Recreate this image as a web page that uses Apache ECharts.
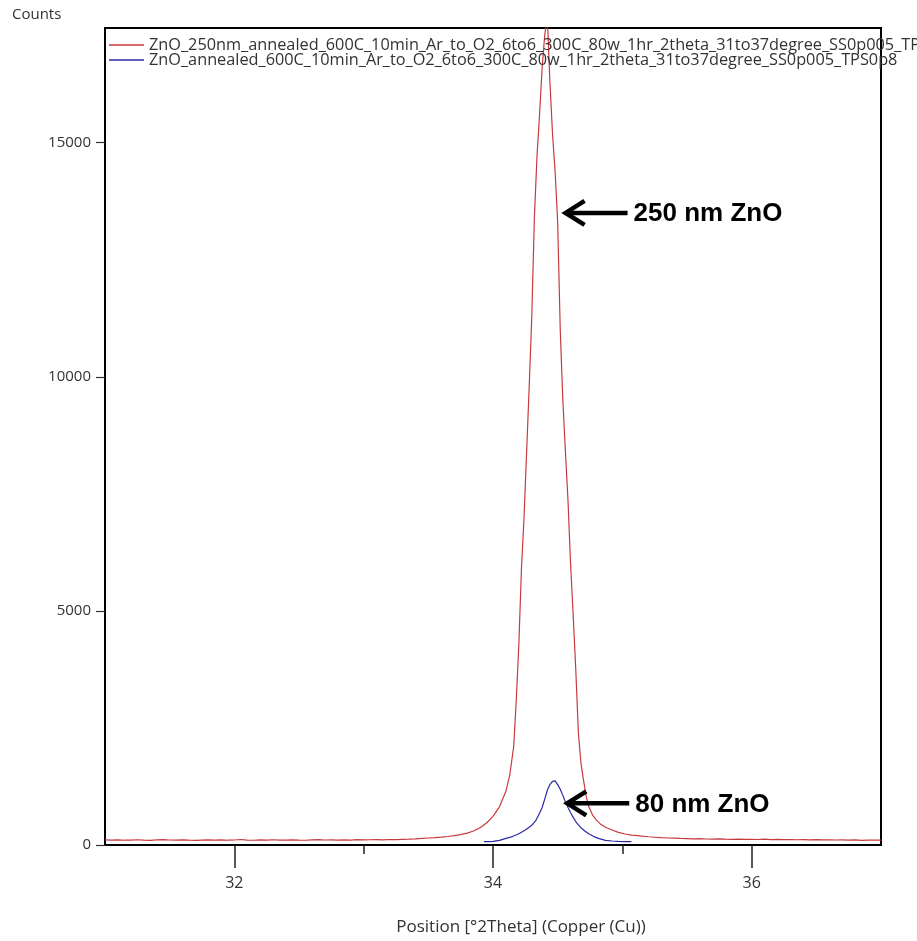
<!DOCTYPE html>
<html>
<head>
<meta charset="utf-8">
<title>ZnO XRD</title>
<script src="https://cdn.jsdelivr.net/npm/echarts@6/dist/echarts.min.js"></script>
<style>
  html, body { margin: 0; padding: 0; background: #fff; }
  #chart { width: 917px; height: 941px; }
</style>
</head>
<body>
<div id="chart"></div>
<script>
// 2theta positions (degrees) and counts
const redPos = [
  31.00, 31.05, 31.10, 31.15, 31.20, 31.25, 31.30, 31.35, 31.40, 31.45,
  31.50, 31.55, 31.60, 31.65, 31.70, 31.75, 31.80, 31.85, 31.90, 31.95,
  32.00, 32.05, 32.10, 32.15, 32.20, 32.25, 32.30, 32.35, 32.40, 32.45,
  32.50, 32.55, 32.60, 32.65, 32.70, 32.75, 32.80, 32.85, 32.90, 32.95,
  33.00, 33.05, 33.10, 33.15, 33.20, 33.25, 33.30, 33.35, 33.40, 33.45,
  33.50, 33.55, 33.60, 33.65, 33.70, 33.75, 33.80, 33.85, 33.90, 33.95,
  34.00, 34.05, 34.10, 34.13, 34.16, 34.18, 34.20, 34.22, 34.24, 34.26,
  34.28, 34.30, 34.32, 34.34, 34.36, 34.38, 34.40, 34.42, 34.44, 34.46,
  34.48, 34.50, 34.52, 34.54, 34.56, 34.58, 34.60, 34.62, 34.64, 34.66,
  34.68, 34.70, 34.72, 34.74, 34.77, 34.80, 34.83, 34.87, 34.92, 34.97,
  35.02, 35.07, 35.10, 35.15, 35.20, 35.25, 35.30, 35.35, 35.40, 35.45,
  35.50, 35.55, 35.60, 35.65, 35.70, 35.75, 35.80, 35.85, 35.90, 35.95,
  36.00, 36.05, 36.10, 36.15, 36.20, 36.25, 36.30, 36.35, 36.40, 36.45,
  36.50, 36.55, 36.60, 36.65, 36.70, 36.75, 36.80, 36.85, 36.90, 36.95,
  37.00
];
const redCounts = [
  108, 104, 110, 102, 106, 112, 105, 100, 108, 115,
  107, 103, 110, 104, 99, 106, 111, 104, 108, 102,
  107, 118, 106, 101, 109, 104, 112, 106, 103, 110,
  105, 101, 108, 114, 107, 111, 104, 110, 106, 113,
  108, 112, 116, 110, 118, 114, 122, 126, 132, 140,
  150, 158, 168, 182, 200, 222, 255, 300, 370, 470,
  610, 815, 1150, 1500, 2100, 3100, 4300, 5900, 7000, 8400,
  9800, 11300, 13400, 14700, 15600, 16600, 17300, 17700, 16300, 15200,
  14400, 13300, 11000, 9500, 8400, 7350, 6000, 4900, 3750, 2400,
  1750, 1380, 1050, 820, 640, 530, 450, 380, 320, 270,
  235, 212, 205, 190, 176, 166, 156, 150, 146, 140,
  137, 132, 135, 128, 126, 130, 124, 121, 126, 119,
  122, 118, 124, 116, 120, 114, 118, 112, 116, 111,
  114, 109, 112, 107, 111, 104, 109, 100, 106, 102,
  105
];
const bluePos = [
  33.93, 33.96, 34.00, 34.05, 34.10, 34.15, 34.20, 34.25, 34.30, 34.33,
  34.36, 34.38, 34.40, 34.42, 34.44, 34.46, 34.47, 34.48, 34.50, 34.52,
  34.54, 34.56, 34.58, 34.60, 34.62, 34.65, 34.68, 34.71, 34.74, 34.78,
  34.82, 34.87, 34.92, 34.97, 35.02, 35.07
];
const blueCounts = [
  70, 72, 78, 100, 140, 180, 240, 320, 420, 520,
  680, 800, 980, 1170, 1290, 1360, 1390, 1370, 1290, 1190,
  1060, 920, 800, 690, 590, 460, 370, 300, 240, 180,
  135, 100, 85, 78, 72, 70
];

const xMajorTicks = [32, 34, 36];
const xMinorTicks = [33, 35];
const yTicks = [0, 5000, 10000, 15000];

const redName = 'ZnO_250nm_annealed_600C_10min_Ar_to_O2_6to6_300C_80w_1hr_2theta_31to37degree_SS0p005_TPS0p8';
const blueName = 'ZnO_annealed_600C_10min_Ar_to_O2_6to6_300C_80w_1hr_2theta_31to37degree_SS0p005_TPS0p8';

const uiFont = '"Open Sans", "Noto Sans", sans-serif';

const chart = echarts.init(document.getElementById('chart'));

const option = {
  backgroundColor: '#fff',
  animation: false,
  grid: {
    left: 105, right: 36, top: 28, bottom: 90,
    show: true,
    borderColor: '#000',
    borderWidth: 2,
    backgroundColor: 'transparent'
  },
  legend: {
    data: [
      { name: redName, icon: 'rect' },
      { name: blueName, icon: 'rect' }
    ],
    left: 104,
    top: 32,
    orient: 'vertical',
    itemGap: -1,
    itemWidth: 35,
    itemHeight: 1.5,
    textStyle: { fontFamily: uiFont, fontSize: 16.3, color: '#333' }
  },
  xAxis: [
    {
      type: 'value',
      min: 31,
      max: 37,
      name: 'Position [°2Theta] (Copper (Cu))',
      nameLocation: 'middle',
      nameGap: 74,
      nameTextStyle: { fontFamily: uiFont, fontSize: 17, color: '#333', padding: [0, 0, 0, 56] },
      axisLine: { show: true, lineStyle: { color: '#000', width: 2 } },
      axisTick: { show: true, customValues: xMajorTicks, length: 23, lineStyle: { color: '#222', width: 1.5 } },
      axisLabel: { customValues: xMajorTicks, margin: 30, fontFamily: uiFont, fontSize: 16, color: '#333' },
      splitLine: { show: false }
    },
    {
      type: 'value',
      min: 31,
      max: 37,
      position: 'bottom',
      axisLine: { show: false },
      axisTick: { show: true, customValues: xMinorTicks, length: 9, lineStyle: { color: '#222', width: 1.5 } },
      axisLabel: { show: false },
      splitLine: { show: false }
    }
  ],
  yAxis: {
    type: 'value',
    min: 0,
    max: 17450,
    axisLine: { show: true, lineStyle: { color: '#000', width: 2 } },
    axisTick: { show: true, customValues: yTicks, length: 9, lineStyle: { color: '#333', width: 1.2 } },
    axisLabel: {
      customValues: yTicks,
      margin: 14,
      fontFamily: uiFont,
      fontSize: 15,
      color: '#333',
      formatter: v => String(v)
    },
    splitLine: { show: false }
  },
  graphic: [
    {
      type: 'text',
      left: 12,
      top: 7,
      style: { text: 'Counts', fontFamily: uiFont, fontSize: 15, fill: '#333' }
    }
  ],
  series: [
    {
      name: redName,
      type: 'line',
      xAxisIndex: 0,
      symbol: 'none',
      data: redPos.map((p, i) => [p, redCounts[i]]),
      lineStyle: { color: '#c83a3e', width: 1.2 },
      itemStyle: { color: '#c83a3e' },
      z: 2
    },
    {
      name: blueName,
      type: 'line',
      xAxisIndex: 0,
      symbol: 'none',
      data: bluePos.map((p, i) => [p, blueCounts[i]]),
      lineStyle: { color: '#2a2aa8', width: 1.2 },
      itemStyle: { color: '#2a2aa8' },
      z: 3
    }
  ]
};

chart.setOption(option);

// arrow annotations, anchored to data coordinates
const notes = [
  { at: [34.561, 13500], text: '250 nm ZnO' },
  { at: [34.574, 890], text: '80 nm ZnO' }
];
const extra = [];
notes.forEach(n => {
  const [tx, ty] = chart.convertToPixel({ xAxisIndex: 0, yAxisIndex: 0 }, n.at);
  extra.push({
    type: 'line',
    shape: { x1: tx + 3, y1: ty, x2: tx + 62, y2: ty },
    style: { stroke: '#000', lineWidth: 4.5 },
    z: 10
  });
  extra.push({
    type: 'polyline',
    shape: { points: [[tx + 19, ty - 12], [tx, ty], [tx + 19, ty + 12]] },
    style: { stroke: '#000', lineWidth: 4.5, fill: null, lineJoin: 'miter' },
    z: 10
  });
  extra.push({
    type: 'text',
    x: tx + 68,
    y: ty + 1,
    style: {
      text: n.text,
      fontFamily: '"Liberation Sans", Arial, sans-serif',
      fontWeight: 'bold',
      fontSize: 26,
      fill: '#000',
      verticalAlign: 'middle'
    },
    z: 10
  });
});
chart.setOption({ graphic: option.graphic.concat(extra) });
</script>
</body>
</html>
